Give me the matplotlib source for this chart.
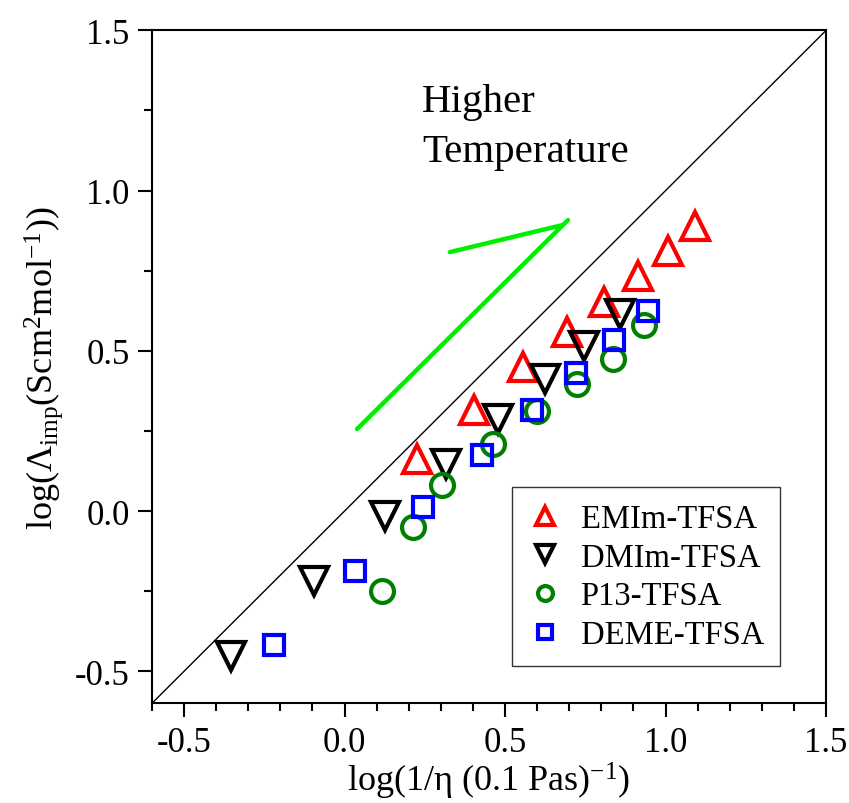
import numpy as np
import matplotlib
matplotlib.use('Agg')
import matplotlib.pyplot as plt
from matplotlib.ticker import MultipleLocator

plt.rcParams['font.family'] = ['Liberation Serif', 'DejaVu Serif']
plt.rcParams['mathtext.fontset'] = 'custom'
plt.rcParams['mathtext.rm'] = 'Liberation Serif'
plt.rcParams['mathtext.it'] = 'Liberation Serif:italic'
plt.rcParams['axes.unicode_minus'] = False

# data
emim_x = [0.226, 0.403, 0.556, 0.693, 0.808, 0.914, 1.007, 1.092]
emim_y = [0.162, 0.315, 0.449, 0.559, 0.652, 0.733, 0.811, 0.889]
dmim_x = [-0.354, -0.095, 0.126, 0.316, 0.478, 0.624, 0.746, 0.858]
dmim_y = [-0.452, -0.218, -0.016, 0.147, 0.287, 0.412, 0.515, 0.615]
p13_x = [0.116, 0.213, 0.303, 0.462, 0.599, 0.724, 0.836, 0.933]
p13_y = [-0.250, -0.050, 0.081, 0.209, 0.312, 0.396, 0.474, 0.580]
deme_x = [-0.220, 0.033, 0.244, 0.428, 0.584, 0.721, 0.839, 0.945]
deme_y = [-0.418, -0.187, 0.012, 0.175, 0.315, 0.431, 0.534, 0.624]

ideal = [-0.6, 1.5]
arrow_long_x = [0.039, 0.696]
arrow_long_y = [0.256, 0.908]
arrow_short_x = [0.328, 0.677]
arrow_short_y = [0.808, 0.892]

fig = plt.figure(figsize=(8.49, 8.04), dpi=100)
ax = fig.add_axes([0.179, 0.124, 0.794, 0.837])

ax.plot(ideal, ideal, color='black', lw=1.0, zorder=1)
ax.plot(arrow_long_x, arrow_long_y, color='#00ee00', lw=3.2, solid_capstyle='round')
ax.plot(arrow_short_x, arrow_short_y, color='#00ee00', lw=3.2, solid_capstyle='round')

mew = 3
ax.plot(emim_x, emim_y, ls='none', marker='^', ms=20, mfc='none', mec='#ff0000', mew=mew,
        label='EMIm-TFSA', zorder=3)
ax.plot(dmim_x, dmim_y, ls='none', marker='v', ms=20, mfc='none', mec='black', mew=mew,
        label='DMIm-TFSA', zorder=3)
ax.plot(p13_x, p13_y, ls='none', marker='o', ms=16.5, mfc='none', mec='#007f00', mew=mew,
        label='P13-TFSA', zorder=3)
ax.plot(deme_x, deme_y, ls='none', marker='s', ms=15, mfc='none', mec='#0000ff', mew=mew,
        label='DEME-TFSA', zorder=3)

ax.text(0.241, 1.248, 'Higher', fontsize=29.5, va='baseline', ha='left')
ax.text(0.241, 1.092, 'Temperature', fontsize=29.5, va='baseline', ha='left')

ax.set_xlim(-0.6, 1.5)
ax.set_ylim(-0.6, 1.5)
ax.xaxis.set_major_locator(MultipleLocator(0.5))
ax.xaxis.set_minor_locator(MultipleLocator(0.1))
ax.yaxis.set_major_locator(MultipleLocator(0.5))
ax.yaxis.set_minor_locator(MultipleLocator(0.25))
ax.tick_params(which='both', direction='out', width=1.5, labelsize=25, top=False, right=False)
ax.tick_params(which='major', length=10, pad=6)
ax.tick_params(which='minor', length=6)
for s in ax.spines.values():
    s.set_linewidth(1.5)

ax.set_xlabel(r'log(1/η (0.1 Pas)$^{-1}$)', fontsize=26, labelpad=1)
ax.set_ylabel(r'log($\Lambda_{\rm imp}$(Scm$^{2}$mol$^{-1}$))', fontsize=26, labelpad=7)

leg = ax.legend(loc='lower right', bbox_to_anchor=(0.932, 0.055), borderaxespad=0,
                fontsize=23.5, markerscale=0.65, frameon=True, fancybox=False,
                edgecolor='black', borderpad=0.5, handlelength=1.0, handletextpad=0.6,
                labelspacing=0.25)
leg.get_frame().set_linewidth(1.0)

fig.savefig('out.png', dpi=100)
